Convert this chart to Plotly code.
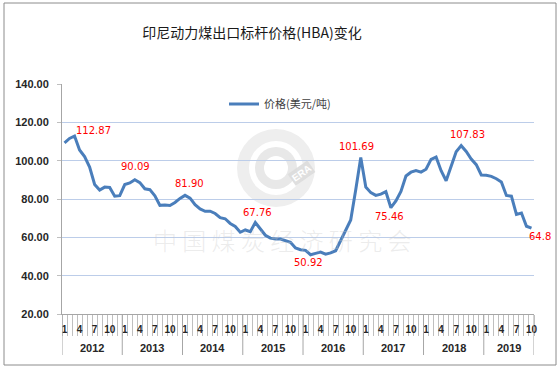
import plotly.graph_objects as go

# ---------------- data ----------------
years = [2012, 2013, 2014, 2015, 2016, 2017, 2018, 2019]
months_per_year = [12, 12, 12, 12, 12, 12, 12, 10]
hba = [
    # 2012
    109.29, 111.58, 112.87, 105.61, 102.12, 96.65, 87.56, 84.65, 86.21, 86.04, 81.44, 81.75,
    # 2013
    87.55, 88.35, 90.09, 88.56, 85.33, 84.87, 81.69, 76.70, 76.89, 76.61, 78.19, 80.31,
    # 2014
    81.90, 80.44, 77.01, 74.81, 73.60, 73.64, 72.45, 70.29, 69.69, 67.26, 65.70, 62.65,
    # 2015
    63.84, 62.92, 67.76, 64.48, 61.08, 59.59, 59.16, 59.14, 58.21, 57.39, 54.43, 53.51,
    # 2016
    53.20, 50.92, 51.62, 52.32, 51.20, 51.87, 53.00, 58.37, 63.93, 69.07, 84.89, 101.69,
    # 2017
    86.23, 83.32, 81.90, 82.51, 83.81, 75.46, 78.95, 83.97, 92.03, 93.99, 94.80, 94.04,
    # 2018
    95.54, 100.69, 101.86, 94.75, 89.53, 96.61, 104.65, 107.83, 104.81, 100.89, 97.90, 92.51,
    # 2019
    92.41, 91.80, 90.57, 88.85, 81.86, 81.48, 71.92, 72.67, 65.79, 64.80,
]
labelled_points = [  # (year, month, text)
    (2012, 3, "112.87"), (2013, 3, "90.09"), (2014, 1, "81.90"), (2015, 3, "67.76"),
    (2016, 2, "50.92"), (2016, 12, "101.69"), (2017, 6, "75.46"), (2018, 8, "107.83"),
    (2019, 10, "64.8"),
]
label_shifts = [(19, 6), (1, 13), (4, 12), (2, 10), (-2, -8), (-4, 11), (-1, -9), (6, 11), (9, -8)]
month_tick_labels = [1, 4, 7, 10]
y_ticks = [20, 40, 60, 80, 100, 120, 140]
title_text = "印尼动力煤出口标杆价格(HBA)变化"
series_name = "价格(美元/吨)"
watermark = "中国煤炭经济研究会"

# ---------------- derived ----------------
month_of = []
year_start = []
idx = 0
for y, n in zip(years, months_per_year):
    year_start.append(idx)
    for m in range(1, n + 1):
        month_of.append(m)
    idx += n
N = len(hba)
x = list(range(N))

W, H = 560, 371
L, R, T, B = 62, 26, 84, 57
PW, PH = W - L - R, H - T - B


def px_x(p):
    return (p - L) / PW


def px_y(p):
    return (H - B - p) / PH


fig = go.Figure()
fig.add_trace(go.Scatter(
    x=x, y=hba, mode="lines", name=series_name,
    line=dict(color="#4a7ebb", width=3),
))

cjk = "Noto Sans CJK SC"
lat = "Liberation Sans"

annotations = []
for (yr, mo, txt), (dx, dy) in zip(labelled_points, label_shifts):
    i = year_start[years.index(yr)] + mo - 1
    annotations.append(dict(x=i, y=hba[i], text=txt, showarrow=False, xshift=dx, yshift=dy,
                            font=dict(family="DejaVu Sans", size=10, color="#ff0000")))

# year labels
for yr, s, n in zip(years, year_start, months_per_year):
    annotations.append(dict(x=s + (n - 1) / 2, y=px_y(348), yref="paper", text=str(yr),
                            showarrow=False, font=dict(family=lat, size=11, color="#262626",
                                                       weight="bold"),
                            yanchor="middle"))

# watermark (spaced glyphs to keep its width)
annotations.append(dict(x=px_x(282), y=px_y(239), xref="paper", yref="paper",
                        text=" ".join(watermark),
                        showarrow=False,
                        font=dict(family=cjk, size=24, color="rgba(200,200,200,0.35)", weight=300),
                        yanchor="middle", xanchor="center"))
annotations.append(dict(x=px_x(301), y=px_y(160), xref="paper", yref="paper", text="<b>ERA</b>",
                        showarrow=False, textangle=-35, bgcolor="rgba(220,220,220,0.9)",
                        font=dict(family=lat, size=10, color="white"), borderpad=1))

shapes = []
# year separators
bounds = year_start + [N]
for b in bounds:
    shapes.append(dict(type="line", xref="x", yref="paper", x0=b - 0.5, x1=b - 0.5,
                       y0=0, y1=px_y(355), line=dict(color="#a6a6a6", width=1)))
# logo circles (watermark)
cx, cy = 276, 168
for r, col in [(39, "#eeeeee"), (27, "white"), (21, "#e8e8e8"), (12, "white")]:
    shapes.append(dict(type="circle", xref="paper", yref="paper", layer="below",
                       x0=px_x(cx - r), x1=px_x(cx + r), y0=px_y(cy + r), y1=px_y(cy - r),
                       fillcolor=col, line=dict(width=0)))
# outer border
shapes.append(dict(type="rect", xref="paper", yref="paper",
                   x0=px_x(4), x1=px_x(556), y0=px_y(365), y1=px_y(3),
                   line=dict(color="#8c8c8c", width=1)))

tickvals = [i for i in x if month_of[i] in month_tick_labels]
ticktext = [str(month_of[i]) for i in tickvals]

fig.update_layout(
    width=W, height=H,
    margin=dict(l=L, r=R, t=T, b=B),
    paper_bgcolor="white", plot_bgcolor="white",
    title=dict(text=title_text, x=252 / W, xanchor="center", y=1 - 33 / H, yanchor="middle",
               font=dict(family=cjk, size=14, color="#1a1a1a")),
    showlegend=True,
    legend=dict(x=px_x(224), y=px_y(104), xanchor="left", yanchor="middle",
                bgcolor="rgba(0,0,0,0)", itemwidth=30,
                font=dict(family=cjk, size=11, color="#404040")),
    xaxis=dict(range=[-0.5, N - 0.5], tickmode="array", tickvals=tickvals, ticktext=ticktext,
               ticks="", showgrid=False, zeroline=False, showline=True, linecolor="#a6a6a6",
               tickfont=dict(family=lat, size=10, color="#262626", weight="bold"),
               ticklabelstandoff=6,
               minor=dict(tickmode="linear", tick0=-0.5, dtick=1, ticks="outside", ticklen=21,
                          tickcolor="#bfbfbf", tickwidth=1, showgrid=False)),
    yaxis=dict(range=[20, 140], tickmode="array", tickvals=y_ticks, tickformat=".2f",
               ticks="outside", ticklen=4, tickcolor="#bfbfbf",
               showgrid=True, gridcolor="#bccde9", gridwidth=1, zeroline=False,
               showline=True, linecolor="#a6a6a6",
               tickfont=dict(family=lat, size=11, color="#262626", weight="bold"),
               ticklabelstandoff=6),
    annotations=annotations,
    shapes=shapes,
)

fig.write_html("out.html", config={"displayModeBar": False},
               post_script="document.body.style.margin='0';document.body.style.padding='0';")
